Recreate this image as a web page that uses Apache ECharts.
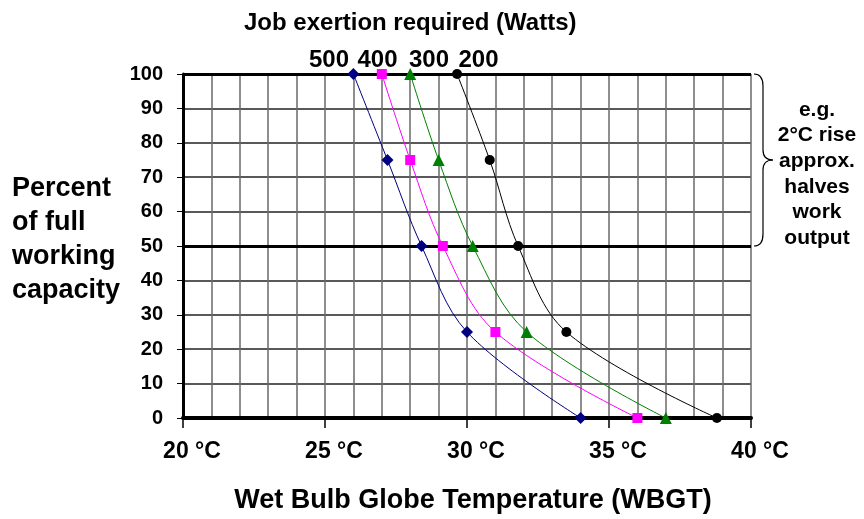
<!DOCTYPE html>
<html><head><meta charset="utf-8">
<script src="https://cdn.jsdelivr.net/npm/echarts@6/dist/echarts.min.js"></script>
<style>html,body{margin:0;padding:0;background:#fff}#c{width:864px;height:519px}</style>
</head><body><div id="c"></div>
<script>
// ---- data ----
const percent = [100, 75, 50, 25, 0];
const temp500 = [26.0, 27.2, 28.4, 30.0, 34.0];
const temp400 = [27.0, 28.0, 29.15, 31.0, 36.0];
const temp300 = [28.0, 29.0, 30.2, 32.1, 37.0];
const temp200 = [29.65, 30.8, 31.8, 33.5, 38.8];
const wattLabels = ['500', '400', '300', '200'];
const refLines = [50, 100];
const xTitle = 'Wet Bulb Globe Temperature (WBGT)';
const yTitle = 'Percent\nof full\nworking\ncapacity';
const topTitle = 'Job exertion required (Watts)';
const note = 'e.g.\n2°C rise\napprox.\nhalves\nwork\noutput';

const FONT = "'Liberation Sans', Arial, sans-serif";
const chart = echarts.init(document.getElementById('c'), null, {renderer: 'canvas'});

function mk(name, temps, color, symbol, size) {
  return {
    name, type: 'line', smooth: 0.35, clip: false, z: 5,
    data: temps.map((t, i) => [t, percent[i]]),
    symbol, symbolSize: size, showSymbol: true,
    lineStyle: {color, width: 1},
    itemStyle: {color, borderWidth: 0},
    emphasis: {disabled: true}
  };
}

const option = {
  animation: false,
  backgroundColor: '#fff',
  grid: {left: 183, right: 113, top: 74, bottom: 101, containLabel: false},
  xAxis: {
    type: 'value', min: 20, max: 40, interval: 5,
    axisLine: {show: true, onZero: false, lineStyle: {color: '#000', width: 4}},
    axisTick: {show: true, length: 10, lineStyle: {color: '#000', width: 1.5}},
    minorTick: {show: false, splitNumber: 5},
    splitLine: {show: true, lineStyle: {color: '#6a6a6a', width: 1.5}},
    minorSplitLine: {show: true, lineStyle: {color: '#6a6a6a', width: 1.5}},
    axisLabel: {
      margin: 22, color: '#000', fontFamily: FONT, fontWeight: 'bold', fontSize: 23,
      padding: [0, 0, 0, 18],
      formatter: v => v + ' °C'
    }
  },
  yAxis: {
    type: 'value', min: 0, max: 100, interval: 10,
    axisLine: {show: true, onZero: false, lineStyle: {color: '#000', width: 3}},
    axisTick: {show: true, length: 6, lineStyle: {color: '#000', width: 1}},
    splitLine: {show: true, lineStyle: {color: '#222', width: 1.5}},
    axisLabel: {margin: 20, color: '#000', fontFamily: FONT, fontWeight: 'bold', fontSize: 20}
  },
  series: [
    {
      type: 'line', data: [], z: 2, silent: true,
      markLine: {
        silent: true, symbol: 'none', label: {show: false}, animation: false,
        lineStyle: {color: '#000', width: 3, type: 'solid'},
        data: refLines.map(v => ({yAxis: v}))
      }
    },
    mk('500', temp500, '#000080', 'diamond', 12),
    mk('400', temp400, '#ff00ff', 'rect', 10),
    mk('300', temp300, '#008000', 'triangle', 12),
    mk('200', temp200, '#000000', 'circle', 10)
  ]
};
chart.setOption(option);

// annotation positions
const p100 = chart.convertToPixel({gridIndex: 0}, [40, 100]);
const p50 = chart.convertToPixel({gridIndex: 0}, [40, 50]);
const bx = p100[0] + 3, yt = p100[1], yb = p50[1], ym = (yt + yb) / 2;
const braceStyle = {stroke: '#000', lineWidth: 1.2, fill: null};
const bz = (x1, y1, cx, cy, x2, y2) => ({type: 'bezierCurve', silent: true, z: 10,
  shape: {x1, y1, cpx1: cx, cpy1: cy, x2, y2}, style: braceStyle});
const ln = (x1, y1, x2, y2) => ({type: 'line', silent: true, z: 10,
  shape: {x1, y1, x2, y2}, style: braceStyle});
const brace = [
  bz(bx, yt, bx + 9, yt, bx + 9, yt + 12),
  ln(bx + 9, yt + 12, bx + 9, ym - 10),
  bz(bx + 9, ym - 10, bx + 9, ym, bx + 19, ym),
  bz(bx + 19, ym, bx + 9, ym, bx + 9, ym + 10),
  ln(bx + 9, ym + 10, bx + 9, yb - 12),
  bz(bx + 9, yb - 12, bx + 9, yb, bx, yb)
];

const wattX = [329, 377.5, 429, 478.5];
const txt = (text, x, y, size, align, extra) => ({
  type: 'text', silent: true, z: 10,
  style: Object.assign({text, x, y, fill: '#000', font: `bold ${size}px ${FONT}`, align: align, verticalAlign: 'middle'}, extra || {})
});

chart.setOption({
  graphic: [
    txt(topTitle, 244, 23, 24, 'left'),
    ...wattLabels.map((w, i) => txt(w, wattX[i], 60, 24, 'center')),
    txt(xTitle, 473, 501, 27, 'center'),
    txt(yTitle, 12, 240, 27, 'left', {lineHeight: 34}),
    txt(note, 817, 174, 21, 'center', {lineHeight: 25.6}),
    ...brace
  ]
});
</script></body></html>
